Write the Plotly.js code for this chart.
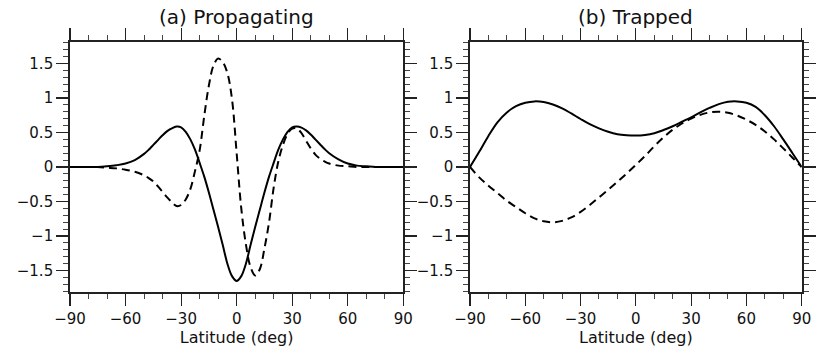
<!DOCTYPE html>
<html>
<head>
<meta charset="utf-8">
<script src="https://cdn.plot.ly/plotly-3.0.1.min.js"></script>
<style>html,body{margin:0;padding:0;background:#fff;}#chart{width:817px;height:350px;}</style>
</head>
<body>
<div id="chart"></div>
<script>
// ---- Data ----
const latA = [-90,-85,-80,-75,-70,-65,-60,-55,-50,-47.5,-45,-42.5,-40,-37.5,-35,-32.5,-30,-27.5,-25,-22.5,-20,-17.5,-15,-12.5,-10,-7.5,-5,-2.5,0,2.5,5,7.5,10,12.5,15,17.5,20,22.5,25,27.5,30,32.5,35,37.5,40,42.5,45,47.5,50,55,60,65,70,75,80,85,90];
const propSolid = [0,0,0,0,0.01,0.025,0.05,0.10,0.19,0.25,0.32,0.39,0.46,0.52,0.56,0.585,0.575,0.51,0.40,0.25,0.06,-0.14,-0.37,-0.62,-0.87,-1.13,-1.40,-1.58,-1.65,-1.58,-1.40,-1.13,-0.87,-0.62,-0.37,-0.14,0.06,0.25,0.40,0.51,0.575,0.585,0.57,0.53,0.47,0.40,0.33,0.26,0.20,0.11,0.05,0.02,0.01,0,0,0,0];
const propDashed = [0,0,0,0,-0.01,-0.02,-0.04,-0.07,-0.12,-0.16,-0.21,-0.28,-0.36,-0.44,-0.51,-0.565,-0.55,-0.47,-0.32,-0.06,0.24,0.74,1.18,1.47,1.57,1.52,1.36,0.98,0.20,-0.60,-1.12,-1.45,-1.57,-1.48,-1.18,-0.80,-0.30,0.08,0.32,0.48,0.555,0.56,0.49,0.38,0.27,0.18,0.12,0.08,0.05,0.02,0.01,0,0,0,0,0,0];

const latB = [-90,-85,-80,-75,-70,-65,-60,-55,-50,-45,-40,-35,-30,-25,-20,-15,-10,-5,0,5,10,15,20,25,30,35,40,45,50,55,60,65,70,75,80,85,90];
const trapSolid = [0,0.22,0.45,0.65,0.79,0.88,0.93,0.95,0.94,0.905,0.85,0.775,0.695,0.62,0.56,0.51,0.475,0.46,0.455,0.465,0.49,0.535,0.59,0.655,0.72,0.79,0.855,0.91,0.945,0.95,0.93,0.87,0.75,0.59,0.40,0.20,0];
const trapDashed = [0,-0.15,-0.27,-0.38,-0.49,-0.58,-0.67,-0.745,-0.785,-0.80,-0.78,-0.73,-0.65,-0.55,-0.44,-0.33,-0.215,-0.095,0.03,0.16,0.30,0.43,0.54,0.63,0.70,0.755,0.79,0.80,0.785,0.745,0.685,0.61,0.515,0.40,0.27,0.135,0];

const panelTitles = ["(a) Propagating", "(b) Trapped"];
const xTitle = "Latitude (deg)";
const xTickVals = [-90,-60,-30,0,30,60,90];
const xTickText = ["\u221290","\u221260","\u221230","0","30","60","90"];
const yTickVals = [-1.5,-1,-0.5,0,0.5,1,1.5];
const yTickText = ["\u22121.5","\u22121","\u22120.5","0","0.5","1","1.5"];

// ---- Styling ----
const FONT = "DejaVu Sans";
const solidLine = {color:"#000", width:2, shape:"spline", smoothing:1};
const dashLine = {color:"#000", width:2, dash:"8px,5px", shape:"spline", smoothing:1};

const traces = [
  {x: latA, y: propSolid, xaxis:"x", yaxis:"y", mode:"lines", line: solidLine, hoverinfo:"skip"},
  {x: latA, y: propDashed, xaxis:"x", yaxis:"y", mode:"lines", line: dashLine, hoverinfo:"skip"},
  {x: latB, y: trapSolid, xaxis:"x2", yaxis:"y2", mode:"lines", line: solidLine, hoverinfo:"skip"},
  {x: latB, y: trapDashed, xaxis:"x2", yaxis:"y2", mode:"lines", line: dashLine, hoverinfo:"skip"}
];

function xAxis(domain, anchor) {
  return {
    domain: domain, anchor: anchor, range: [-90, 90],
    tickmode: "array", tickvals: xTickVals, ticktext: xTickText,
    ticks: "outside", ticklen: 12, tickwidth: 1.2, tickcolor: "#222",
    minor: {dtick: 10, tick0: 0, ticks: "outside", ticklen: 5, tickwidth: 1, tickcolor: "#444"},
    showline: true, linecolor: "#222", linewidth: 1.8, mirror: "allticks",
    showgrid: false, zeroline: false,
    tickfont: {family: FONT, size: 15, color: "#111"},
    title: {text: xTitle, font: {family: FONT, size: 16, color: "#111"}, standoff: 4},
    fixedrange: true
  };
}
function yAxis(anchor) {
  return {
    domain: [0, 1], anchor: anchor, range: [-1.81, 1.81],
    tickmode: "array", tickvals: yTickVals, ticktext: yTickText,
    ticks: "outside", ticklen: 12, tickwidth: 1.2, tickcolor: "#222",
    minor: {dtick: 0.1, tick0: 0, ticks: "outside", ticklen: 5, tickwidth: 1, tickcolor: "#444"},
    showline: true, linecolor: "#222", linewidth: 1.8, mirror: "allticks",
    showgrid: false, zeroline: false,
    tickfont: {family: FONT, size: 15, color: "#111"},
    fixedrange: true
  };
}

const layout = {
  width: 817, height: 350,
  margin: {l: 0, r: 0, t: 42, b: 58},
  paper_bgcolor: "#fff", plot_bgcolor: "#fff",
  showlegend: false,
  xaxis: xAxis([70/817, 403.3/817], "y"),
  yaxis: yAxis("x"),
  xaxis2: xAxis([470/817, 801.7/817], "y2"),
  yaxis2: yAxis("x2"),
  annotations: [
    {text: panelTitles[0], xref: "paper", yref: "paper", x: (70+403.3)/2/817, y: 1.1, xanchor: "center", yanchor: "middle", showarrow: false, font: {family: FONT, size: 20, color: "#111"}},
    {text: panelTitles[1], xref: "paper", yref: "paper", x: (470+801.7)/2/817, y: 1.1, xanchor: "center", yanchor: "middle", showarrow: false, font: {family: FONT, size: 20, color: "#111"}}
  ]
};

Plotly.newPlot("chart", traces, layout, {displayModeBar: false, staticPlot: true});
</script>
</body>
</html>
